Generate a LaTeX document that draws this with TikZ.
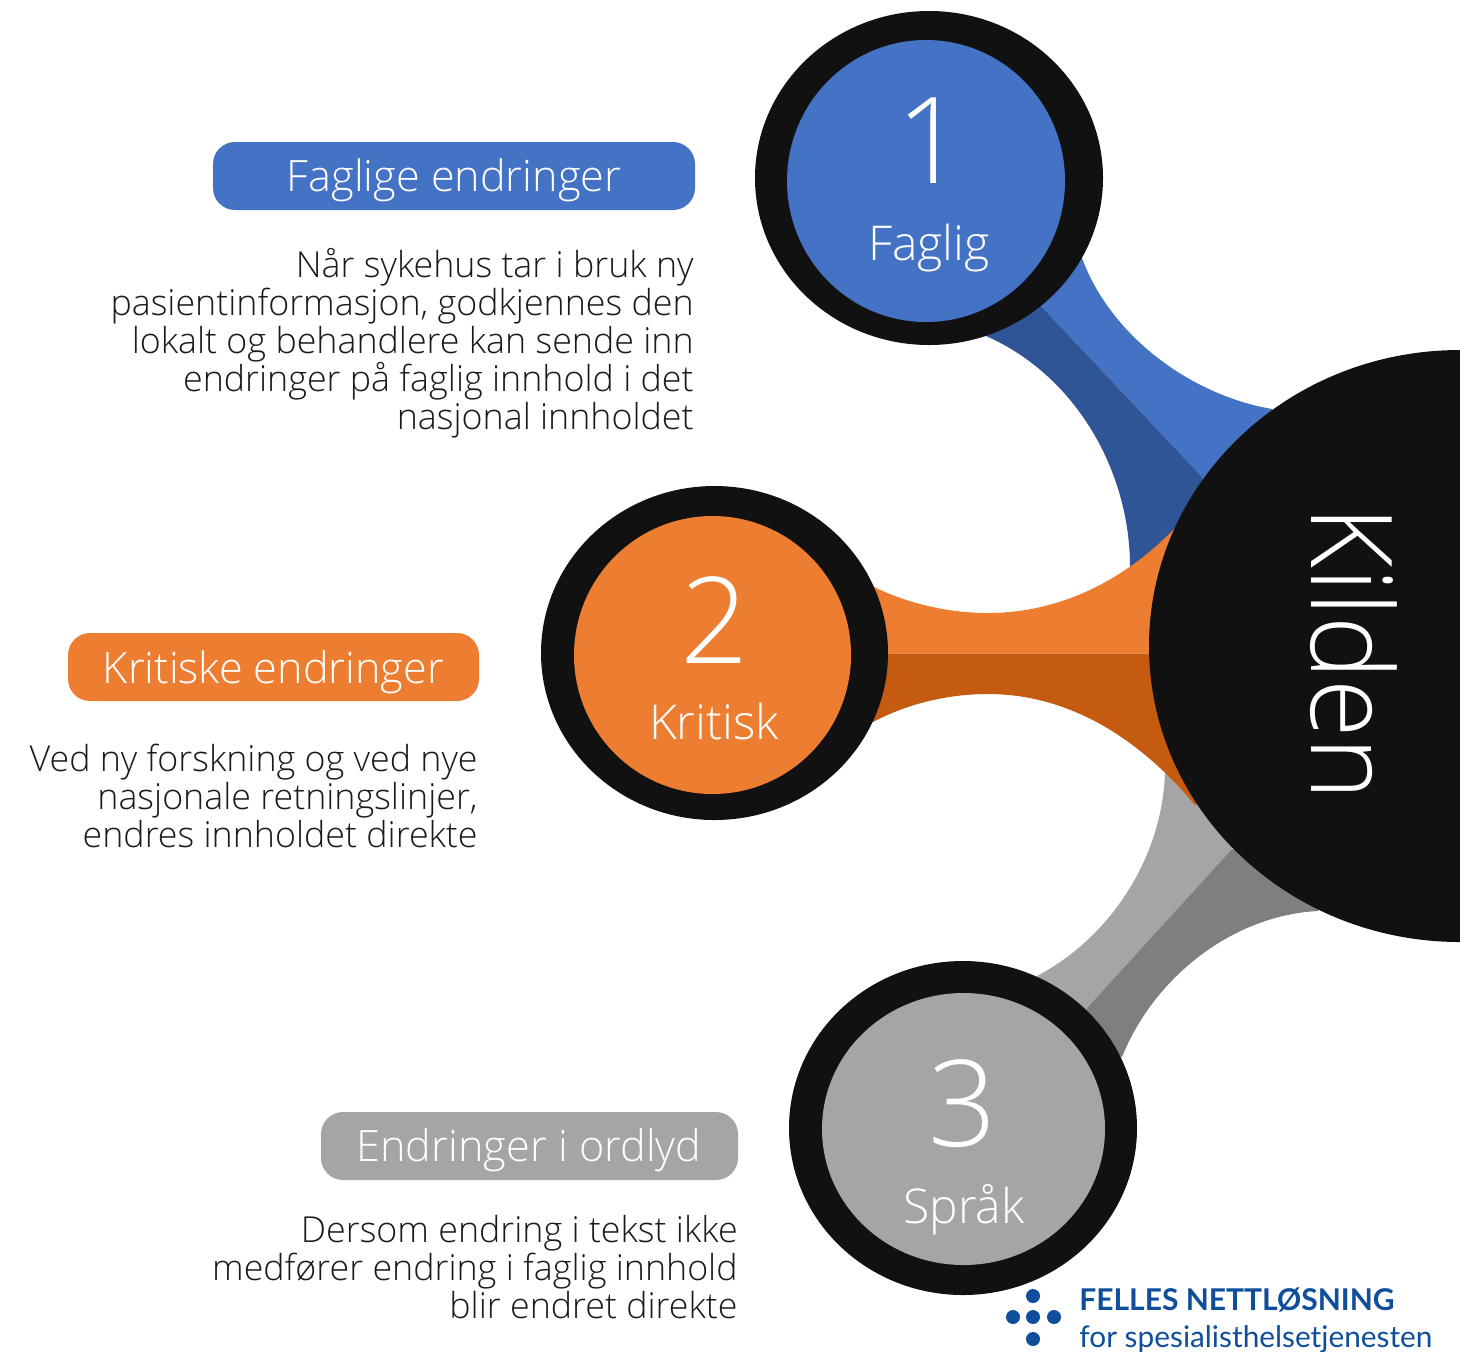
\documentclass[tikz,border=0pt]{standalone}
\usepackage{fontspec}
\setmainfont{Open Sans}[UprightFont=* Light,BoldFont=* Semibold]
\newfontfamily\logofont{Lato}
\definecolor{cblue}{HTML}{4472C4}
\definecolor{cbluedk}{HTML}{2F5597}
\definecolor{corange}{HTML}{ED7D31}
\definecolor{corangedk}{HTML}{C55A11}
\definecolor{cgrey}{HTML}{A5A5A5}
\definecolor{cgreydk}{HTML}{7F7F7F}
\definecolor{cblack}{HTML}{111111}
\definecolor{ctext}{HTML}{1A1A1A}
\definecolor{clogo}{HTML}{0F4E9A}
\tikzset{
  pill/.style={rounded corners=11pt,draw=none},
  pilltext/.style={text=white,anchor=base,inner sep=0pt,font=\fontsize{21.6}{26}\selectfont},
  bodytext/.style={text=ctext,anchor=north east,align=right,inner sep=0pt,font=\fontsize{17.9}{19}\selectfont},
  numtext/.style={text=white,anchor=base,inner sep=0pt,font=\fontsize{60}{70}\selectfont},
  captext/.style={text=white,anchor=base,inner sep=0pt,font=\fontsize{24}{28}\selectfont},
  dot/.style={circle,fill=clogo,inner sep=0pt,minimum size=7pt},
  logotext/.style={text=clogo,anchor=base west,inner sep=0pt}
}
\begin{document}
\begin{tikzpicture}[x=0.5pt,y=-0.5pt]
\useasboundingbox (0,0) rectangle (1460,1351);
\clip (0,0) rectangle (1460,1351);
% blue connector
\fill[cblue] (1082,258) .. controls (1110,335) and (1190,395) .. (1272,409) -- (1300,480) -- (1203,478) -- (1040,305) -- (1000,260) -- cycle;
\fill[cbluedk] (986,336) .. controls (1075,375) and (1130,470) .. (1130,567) -- (1180,600) -- (1240,520) -- (1203,478) -- (1040,305) -- (1000,280) -- cycle;
% grey connector
\fill[cgrey] (1165,767) .. controls (1165,850) and (1115,935) .. (1037,976) -- (1050,1030) -- (1087,1008) -- (1232,849) -- (1260,800) -- (1190,740) -- cycle;
\fill[cgreydk] (1122,1057) .. controls (1155,975) and (1235,915) .. (1318,911) -- (1340,860) -- (1232,849) -- (1087,1008) -- (1060,1040) -- cycle;
% orange connector
\fill[corange] (874,587) .. controls (905,602) and (945,613) .. (988,613) .. controls (1060,613) and (1125,580) .. (1175,528) -- (1220,560) -- (1220,653.5) -- (850,653.5) -- (850,587) -- cycle;
\fill[corangedk] (873,722) .. controls (905,705) and (945,694) .. (988,694) .. controls (1075,694) and (1145,745) .. (1195,805) -- (1240,780) -- (1220,653.5) -- (850,653.5) -- (850,722) -- cycle;
% hubs
\fill[cblack] (929,178) ellipse [x radius=174,y radius=167];
\fill[cblue] (926,181) ellipse [x radius=139,y radius=141];
\fill[cblack] (714.5,653) ellipse [x radius=173.5,y radius=167];
\fill[corange] (712.5,655) ellipse [x radius=138.5,y radius=139];
\fill[cblack] (963,1128) ellipse [x radius=174,y radius=167];
\fill[cgrey] (963.5,1129) ellipse [x radius=141.5,y radius=136];
\fill[cblack] (1460,646) ellipse [x radius=311,y radius=296];
% pills
\fill[cblue,pill] (213,142) rectangle (695,210);
\fill[corange,pill] (68,633) rectangle (479,701);
\fill[cgrey,pill] (321,1112) rectangle (738,1180);
\node[pilltext] (t1) at (454,191) {Faglige endringer};
\node[pilltext] (t2) at (273.5,683) {Kritiske endringer};
\node[pilltext] (t3) at (529,1161) {Endringer i ordlyd};
% body
\node[bodytext] (b1) at (694,248) {Når sykehus tar i bruk ny\\pasientinformasjon, godkjennes den\\lokalt og behandlere kan sende inn\\endringer på faglig innhold i det\\nasjonal innholdet};
\node[bodytext] (b2) at (478,744) {Ved ny forskning og ved nye\\nasjonale retningslinjer,\\endres innholdet direkte};
\node[bodytext] (b3) at (738,1215) {Dersom endring i tekst ikke\\medfører endring i faglig innhold\\blir endret direkte};
% numbers
\node[numtext] (n1) at (931,183) {1};
\node[captext] (c1) at (929,260) {Faglig};
\node[numtext] (n2) at (715,663) {2};
\node[captext] (c2) at (714,739) {Kritisk};
\node[numtext] (n3) at (963,1146) {3};
\node[captext] (c3) at (964,1223) {Språk};
\node[text=white,inner sep=0pt,rotate=-90,font=\fontsize{56.5}{70}\selectfont] (k) at (1353.5,653.5) {\scalebox{0.94}[1]{Kilden}};
% logo
\node[dot] (d1) at (1033,1296) {};
\node[dot] (d2) at (1013,1317) {};
\node[dot] (d3) at (1033,1317) {};
\node[dot] (d4) at (1054,1317) {};
\node[dot] (d5) at (1033,1339) {};
\node[logotext,font=\logofont\bfseries\fontsize{15}{18}\selectfont] (l1) at (1079,1310) {FELLES NETTLØSNING};
\node[logotext,font=\logofont\fontsize{14.9}{18}\selectfont] (l2) at (1079,1347) {for spesialisthelsetjenesten};
\end{tikzpicture}
\end{document}
